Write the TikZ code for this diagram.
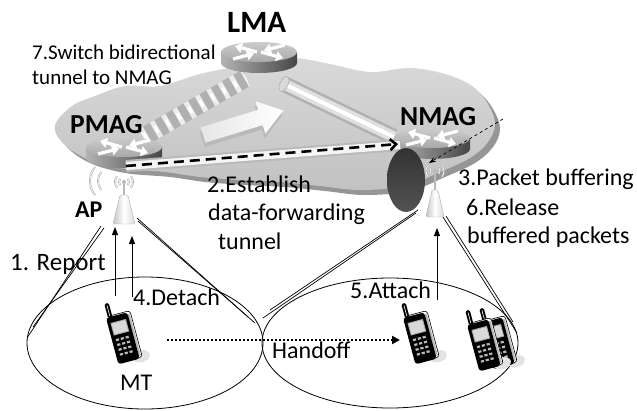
\documentclass[tikz,border=0pt]{standalone}
\usepackage{fontspec}
\setmainfont{Carlito}
\usetikzlibrary{arrows.meta,calc}

\definecolor{cloudedge}{RGB}{150,150,150}

% outline of the core-network cloud
\newcommand{\cloudoutline}{plot[smooth cycle, tension=0.6] coordinates {
  (55,125) (72,106) (95,96) (125,86) (160,86) (200,74) (240,66) (290,58)
  (330,64) (370,72) (410,68) (445,74) (472,86) (488,104) (495,124)
  (488,142) (470,158) (440,172) (405,186) (360,190) (320,186) (280,182)
  (240,180) (200,177) (165,172) (120,168) (85,158) (62,142)}}

\tikzset{
  txt/.style={anchor=base west, inner sep=0pt, font=\fontsize{24}{28}\selectfont},
  smalltxt/.style={anchor=base west, inner sep=0pt, font=\fontsize{21}{25}\selectfont},
  entity/.style={anchor=base west, inner sep=0pt, font=\bfseries\fontsize{27.5}{31}\selectfont},
  sig/.style={-{Triangle[length=8pt,width=6pt]}, line width=0.9pt},
  rim/.style={line width=0.7pt},
  cell/.style={line width=0.8pt},
  wave/.style={line width=1.8pt, gray!65},
  wavein/.style={line width=0.6pt, white},
  rarrow/.style={white, line width=3.2pt, -{Triangle[length=7pt,width=10pt]}},
  router/.pic={
    \shade[left color=gray!60, right color=gray!55!black]
      (-38,0) -- (-38,11) arc[start angle=180,end angle=0,x radius=38,y radius=10] -- (38,0) -- cycle;
    \shade[top color=gray!40, bottom color=gray!68] (0,0) ellipse[x radius=38,y radius=10];
    \draw[rarrow] (-2,0) -- (-24,-6);
    \draw[rarrow] (2,0) -- (24,6);
    \draw[rarrow] (26,-7) -- (5,-1.5);
    \draw[rarrow] (-26,7) -- (-5,1.5);
  },
  phone/.pic={
    \fill[gray!22] (24,46) ellipse[x radius=9,y radius=6];
    \draw[black, line width=0.6pt, fill=white, rounded corners=3pt] (3,-1) rectangle (25,47);
    \fill[gray!55] (22,2) rectangle (24,45);
    \fill[black, rounded corners=3pt] (0,0) rectangle (22,48);
    \fill[black, rounded corners=1.5pt] (2,-14) rectangle (6.5,1);
    \draw[white, line width=0.6pt] (4.2,-12) -- (4.2,-1);
    \fill[gray!70] (3,6) rectangle (19,19);
    \fill[gray!30] (4,7) rectangle (18,18);
    \foreach \kx in {5.5,10.5,15.5}
      \foreach \ky in {24,29,34,39}
        \fill[gray!55] (\kx-1.6,\ky-1.1) rectangle (\kx+1.6,\ky+1.1);
  },
}

\begin{document}
\begin{tikzpicture}[x=1pt,y=-1pt]
\useasboundingbox (0,0) rectangle (637,410);

% ---- core network cloud
\begin{scope}[shift={(5,5)}]
  \fill[cloudedge] \cloudoutline;
\end{scope}
\shade[top color=gray!30, bottom color=gray!48] \cloudoutline;

% ---- named anchor points
\coordinate (pmagtop) at (143,137);
\coordinate (lmalow) at (246,78);
\coordinate (lmaout) at (284,84);
\coordinate (nmagin) at (394,137);
\coordinate (pmagfw) at (126,166);
\coordinate (nmagfw) at (400,145);

% ---- old bidirectional tunnel PMAG -- LMA (striped)
\draw[line width=18pt, gray!62] (pmagtop) -- (lmalow);
\draw[line width=18pt, gray!15, dash pattern=on 5pt off 8pt] (pmagtop) -- (lmalow);
\draw[line width=7pt, white, dash pattern=on 3pt off 10pt, dash phase=-1pt] (pmagtop) -- (lmalow);

% ---- new tunnel LMA -- NMAG
\draw[line width=16pt, gray!62] (lmaout) -- (nmagin);
\draw[line width=11pt, gray!25] (lmaout) -- (nmagin);
\draw[line width=4pt, white] (lmaout) -- (nmagin);
\filldraw[fill=gray!30, draw=gray!60, rim] (lmaout) ellipse[x radius=4, y radius=8, rotate=-26];

% ---- block arrow showing the tunnel switch
\begin{scope}[shift={(203,135)}, rotate=17]
  \fill[gray!55] (-2,-4) -- (58,-4) -- (58,-13) -- (82,4) -- (58,21) -- (58,12) -- (-2,12) -- cycle;
  \shade[left color=gray!20, right color=white]
    (0,-8) -- (60,-8) -- (60,-17) -- (84,0) -- (60,17) -- (60,8) -- (0,8) -- cycle;
\end{scope}

% ---- routers
\pic at (259,52) {router};
\pic at (124,147) {router};
\pic at (432,138) {router};

% ---- data-forwarding tunnel PMAG -- NMAG
\draw[line width=12pt, gray!55] (pmagfw) -- (nmagfw);
\draw[line width=8pt, white!92!gray] (pmagfw) -- (nmagfw);
\draw[line width=2.6pt, dash pattern=on 10pt off 6pt,
      -{Straight Barb[length=6pt,width=11pt]}] (pmagfw) -- ($(nmagfw)+(-2,-1)$);

% ---- packet buffer at the NMAG
\shade[top color=gray!40!black, bottom color=gray!65!black]
  (406,180) ellipse[x radius=19, y radius=32];

% ---- access point towers
\coordinate (aptip) at (124,182);
\coordinate (nptip) at (435,171);
\foreach \r in {5,9} {
  \draw[wave] (aptip) ++(140:\r) arc[start angle=140,end angle=220,radius=\r];
  \draw[wavein] (aptip) ++(140:\r) arc[start angle=140,end angle=220,radius=\r];
  \draw[wave] (aptip) ++(-40:\r) arc[start angle=-40,end angle=40,radius=\r];
  \draw[wavein] (aptip) ++(-40:\r) arc[start angle=-40,end angle=40,radius=\r];
  \draw[wave] (nptip) ++(140:\r) arc[start angle=140,end angle=220,radius=\r];
  \draw[wavein] (nptip) ++(140:\r) arc[start angle=140,end angle=220,radius=\r];
  \draw[wave] (nptip) ++(-40:\r) arc[start angle=-40,end angle=40,radius=\r];
  \draw[wavein] (nptip) ++(-40:\r) arc[start angle=-40,end angle=40,radius=\r];
}
\coordinate (apouter) at (112,181);
\foreach \r in {14,22} {
  \draw[wave] (apouter) ++(140:\r) arc[start angle=140,end angle=220,radius=\r];
  \draw[wavein] (apouter) ++(140:\r) arc[start angle=140,end angle=220,radius=\r];
}
\draw[gray!55, line width=1.3pt] (aptip) -- (124,196);
\fill[gray!55] (aptip) circle[radius=2];
\draw[gray!55, line width=1.3pt] (nptip) -- (435,191);
\fill[gray!55] (nptip) circle[radius=2];
\shade[draw=gray!60, left color=gray!45, right color=gray!30, middle color=white, rounded corners=1.5pt]
  (120,195) -- (128,195) -- (135,224) -- (113,224) -- cycle;
\shade[draw=gray!60, left color=gray!45, right color=gray!30, middle color=white, rounded corners=1.5pt]
  (432,190) -- (438,190) -- (444,217) -- (426,217) -- cycle;

% ---- buffering indication
\coordinate (bufsrc) at (503,119);
\draw[dashed, line width=0.7pt, -{Stealth[length=7pt,width=5pt]}] (bufsrc) -- (429,163);

% ---- radio cells and coverage cones
\draw[cell] (145,343) ellipse[x radius=118, y radius=66];
\draw[cell] (390,343) ellipse[x radius=128, y radius=65];
\draw[rim] (101,226) -- (27,338);
\draw[rim] (104,228) -- (33,327);
\draw[rim] (137,218) -- (248,317);
\draw[rim] (138,221) -- (255,323);
\draw[rim] (418,210) -- (270,310);
\draw[rim] (416,213) -- (263,318);
\draw[rim] (443,217) -- (517,333);
\draw[rim] (446,216) -- (513,322);

% ---- mobile terminals
\pic[rotate=15] at (106,318) {phone};
\pic[rotate=15] at (403,318) {phone};
\pic[rotate=15] at (481,323) {phone};
\pic[rotate=15] at (467,325) {phone};

% ---- signalling arrows
\coordinate (rep0) at (115,296);
\coordinate (rep1) at (115,227);
\coordinate (det0) at (132,297);
\coordinate (det1) at (132,236);
\coordinate (att0) at (437,300);
\coordinate (att1) at (437,228);
\draw[sig] (rep0) -- (rep1);
\draw[sig] (det0) -- (det1);
\draw[sig] (att0) -- (att1);
\coordinate (ho0) at (167,340);
\coordinate (ho1) at (400,340);
\draw[line width=2.6pt, dash pattern=on 2.4pt off 1.6pt, -{Triangle[length=8pt,width=8pt]}] (ho0) -- (ho1);

% ---- labels
\node[entity, font=\bfseries\fontsize{31}{35}\selectfont] (lma) at (227,32) {LMA};
\node[entity] (pmag) at (70,133) {PMAG};
\node[entity] (nmag) at (400,125) {NMAG};
\node[entity, font=\bfseries\fontsize{24}{28}\selectfont] (ap) at (75,217) {AP};
\node[smalltxt] (sw1) at (32,59) {7.Switch bidirectional};
\node[smalltxt] (sw2) at (32,84) {tunnel to NMAG};
\node[txt] (es1) at (207,192) {2.Establish};
\node[txt] (es2) at (208,220) {data-forwarding};
\node[txt] (es3) at (218,249) {tunnel};
\node[txt] (pb) at (458,185) {3.Packet buffering};
\node[txt] (rl1) at (466,215) {6.Release};
\node[txt] (rl2) at (467,243) {buffered packets};
\node[txt, font=\fontsize{25}{29}\selectfont] (rp) at (10,270) {1. Report};
\node[txt] (dt) at (133,305) {4.Detach};
\node[txt] (at) at (350,298) {5.Attach};
\node[txt] (hof) at (272,358) {Handoff};
\node[txt] (mt) at (120,390) {MT};
\end{tikzpicture}
\end{document}
